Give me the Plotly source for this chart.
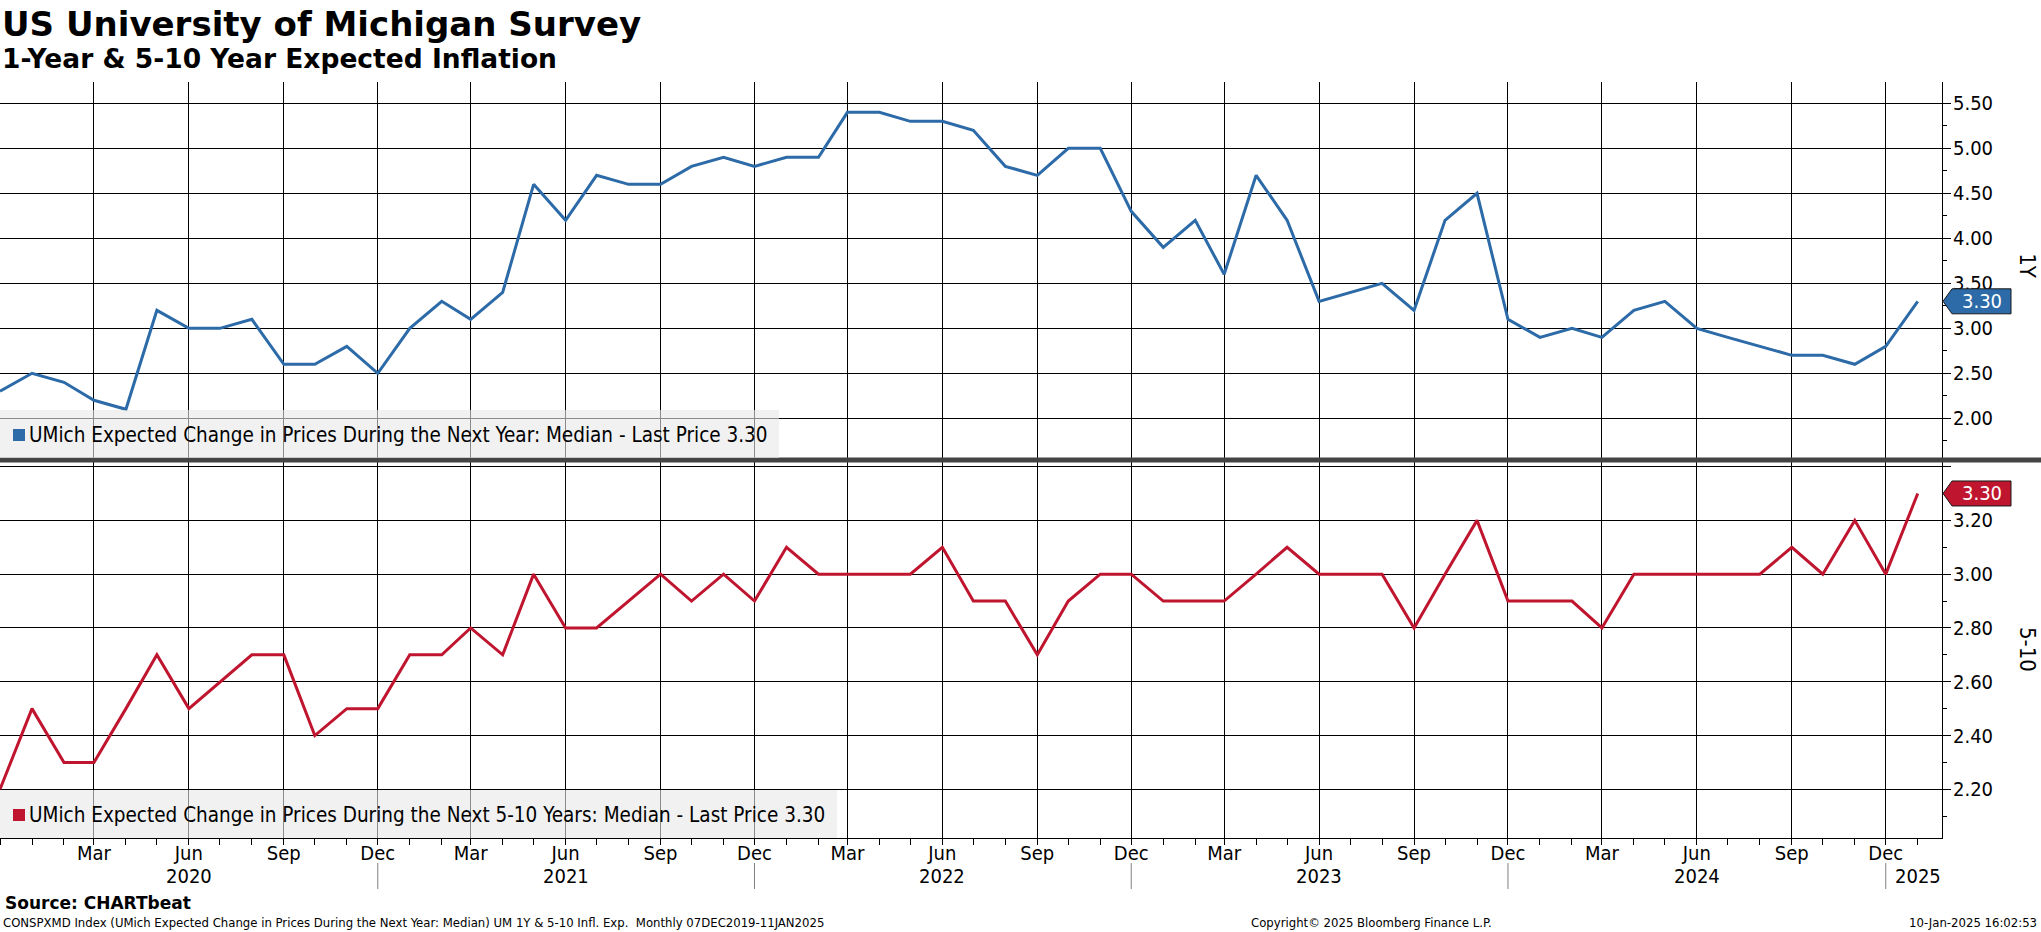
import plotly.graph_objects as go
import pandas as pd

# ---------------- data ----------------
months = pd.date_range("2019-12-01", "2025-01-01", freq="MS")

one_year = [2.3, 2.5, 2.4, 2.2, 2.1, 3.2, 3.0, 3.0, 3.1, 2.6, 2.6, 2.8, 2.5,
            3.0, 3.3, 3.1, 3.4, 4.6, 4.2, 4.7, 4.6, 4.6, 4.8, 4.9, 4.8,
            4.9, 4.9, 5.4, 5.4, 5.3, 5.3, 5.2, 4.8, 4.7, 5.0, 5.0, 4.3,
            3.9, 4.2, 3.6, 4.7, 4.2, 3.3, 3.4, 3.5, 3.2, 4.2, 4.5, 3.1,
            2.9, 3.0, 2.9, 3.2, 3.3, 3.0, 2.9, 2.8, 2.7, 2.7, 2.6, 2.8,
            3.3]

five_ten = [2.2, 2.5, 2.3, 2.3, 2.5, 2.7, 2.5, 2.6, 2.7, 2.7, 2.4, 2.5, 2.5,
            2.7, 2.7, 2.8, 2.7, 3.0, 2.8, 2.8, 2.9, 3.0, 2.9, 3.0, 2.9,
            3.1, 3.0, 3.0, 3.0, 3.0, 3.1, 2.9, 2.9, 2.7, 2.9, 3.0, 3.0,
            2.9, 2.9, 2.9, 3.0, 3.1, 3.0, 3.0, 3.0, 2.8, 3.0, 3.2, 2.9,
            2.9, 2.9, 2.8, 3.0, 3.0, 3.0, 3.0, 3.0, 3.1, 3.0, 3.2, 3.0,
            3.3]

top_ticks = [2.0, 2.5, 3.0, 3.5, 4.0, 4.5, 5.0, 5.5]
bottom_ticks = [2.2, 2.4, 2.6, 2.8, 3.0, 3.2, 3.4]
bottom_tick_text = ["2.20", "2.40", "2.60", "2.80", "3.00", "3.20", ""]

quarter_ticks = pd.date_range("2019-12-01", "2024-12-01", freq="3MS")
quarter_labels = [d.strftime("%b") for d in quarter_ticks]
year_labels = ["2020", "2021", "2022", "2023", "2024", "2025"]
year_label_pos = ["2020-06-01", "2021-06-01", "2022-06-01", "2023-06-01", "2024-06-01", "2025-01-01"]
year_separators = ["2020-12-01", "2021-12-01", "2022-12-01", "2023-12-01", "2024-12-01"]

name_1y = "UMich Expected Change in Prices During the Next Year: Median"
name_510 = "UMich Expected Change in Prices During the Next 5-10 Years: Median"

BLUE = "#2c6aa8"
RED = "#c0152f"

# ---------------- geometry ----------------
W, H = 2041, 932
ML, MR, MT, MB = 0, 99, 82, 94
PW = W - ML - MR
PH = H - MT - MB
PLOT_BOTTOM = H - MB


def xp(px):
    return (px - ML) / PW


def yp(py):
    return (PLOT_BOTTOM - py) / PH


top_dom = [yp(458), 1.0]
bot_dom = [0.0, yp(462)]
top_range = [1.559, 5.737]
bot_range = [2.019, 3.417]
x_range = ["2019-12-01", "2025-01-24 12:00"]

FONT = "DejaVu Sans Condensed, DejaVu Sans, sans-serif"
BOLD_FONT = "DejaVu Sans, sans-serif"

fig = go.Figure()
fig.add_trace(go.Scatter(x=months, y=one_year, mode="lines", line=dict(color=BLUE, width=3),
                         xaxis="x", yaxis="y", showlegend=False, name=name_1y))
fig.add_trace(go.Scatter(x=months, y=five_ten, mode="lines", line=dict(color=RED, width=3),
                         xaxis="x2", yaxis="y2", showlegend=False, name=name_510))

common_x = dict(range=x_range, type="date", tickvals=quarter_ticks, showgrid=True,
                gridcolor="#000000", gridwidth=1, zeroline=False)

fig.update_layout(
    width=W, height=H,
    margin=dict(l=ML, r=MR, t=MT, b=MB),
    paper_bgcolor="white", plot_bgcolor="white",
    font=dict(family=FONT, color="black", size=20),
    xaxis=dict(**common_x, domain=[0, 1], anchor="y", matches="x2", showticklabels=False, ticks=""),
    xaxis2=dict(**common_x, domain=[0, 1], anchor="y2", ticktext=quarter_labels,
                showline=True, linecolor="black", linewidth=1,
                ticks="outside", ticklen=6, tickcolor="black", ticklabelstandoff=-9,
                minor=dict(ticks="outside", dtick="M1", tick0="2019-12-01", ticklen=6, tickcolor="black", showgrid=False),
                tickfont=dict(size=20, family=FONT)),
    yaxis=dict(domain=top_dom, range=top_range, side="right", tickvals=top_ticks, tickformat=".2f",
               showgrid=True, gridcolor="#000000", gridwidth=1, zeroline=False,
               showline=True, linecolor="black", linewidth=1,
               ticks="outside", ticklen=8, tickcolor="black", ticklabelstandoff=-2,
               minor=dict(ticks="outside", dtick=0.25, tick0=0, ticklen=4, tickcolor="black", showgrid=False),
               tickfont=dict(size=20, family=FONT)),
    yaxis2=dict(domain=bot_dom, range=bot_range, side="right", tickvals=bottom_ticks, ticktext=bottom_tick_text,
                showgrid=True, gridcolor="#000000", gridwidth=1, zeroline=False,
                showline=True, linecolor="black", linewidth=1,
                ticks="outside", ticklen=8, tickcolor="black", ticklabelstandoff=-2,
                minor=dict(ticks="outside", dtick=0.1, tick0=0, ticklen=4, tickcolor="black", showgrid=False),
                tickfont=dict(size=20, family=FONT)),
)

shapes = []
annotations = []

# separator band between panels
shapes.append(dict(type="line", xref="paper", yref="paper", x0=0, x1=W / PW, y0=yp(460), y1=yp(460),
                   line=dict(color="#444444", width=5), layer="above"))

# legend boxes
for (y0, y1, x1, col, txt, val) in [
    (410, 458, 779, BLUE, name_1y, one_year[-1]),
    (790, 838, 837, RED, name_510, five_ten[-1]),
]:
    shapes.append(dict(type="rect", xref="paper", yref="paper", x0=xp(0), x1=xp(x1), y0=yp(y1), y1=yp(y0),
                       fillcolor="rgba(232,232,232,0.6)", line=dict(width=0), layer="above"))
    cy = (y0 + y1) / 2 + 1
    shapes.append(dict(type="rect", xref="paper", yref="paper", x0=xp(13), x1=xp(25), y0=yp(cy + 6), y1=yp(cy - 6),
                       fillcolor=col, line=dict(width=0), layer="above"))
    annotations.append(dict(text=f"{txt} - Last Price {val:.2f}", xref="paper", yref="paper",
                            x=xp(27), y=yp(cy), xanchor="left", yanchor="middle", showarrow=False,
                            font=dict(size=20.5, family=FONT, color="black")))

# last price tags
for (axis, rng, val, col) in [("y", top_range, one_year[-1], BLUE), ("y2", bot_range, five_ten[-1], RED)]:
    dom_px = 376
    half = 12.5 * (rng[1] - rng[0]) / dom_px
    xt, xb, xe = xp(1943), xp(1952), xp(2011)
    path = (f"M {xt},{val} L {xb},{val + half} L {xe},{val + half} "
            f"L {xe},{val - half} L {xb},{val - half} Z")
    shapes.append(dict(type="path", xref="paper", yref=axis, path=path, fillcolor=col,
                       line=dict(color="#1a1a1a", width=1), layer="above"))
    annotations.append(dict(text=f"{val:.2f}", xref="paper", yref=axis, x=(xb + xe) / 2, y=val,
                            xanchor="center", yanchor="middle", showarrow=False,
                            font=dict(size=20, family=FONT, color="white")))

# right axis titles
annotations.append(dict(text="1Y", xref="paper", yref="y domain", x=xp(2028), y=0.51, textangle=90,
                        showarrow=False, xanchor="center", yanchor="middle", font=dict(size=22, family=FONT)))
annotations.append(dict(text="5-10", xref="paper", yref="y2 domain", x=xp(2028), y=0.5, textangle=90,
                        showarrow=False, xanchor="center", yanchor="middle", font=dict(size=22, family=FONT)))

# year labels and separators
for lab, pos in zip(year_labels, year_label_pos):
    annotations.append(dict(text=lab, xref="x2", yref="paper", x=pos, y=yp(876), showarrow=False,
                            xanchor="center", yanchor="middle", font=dict(size=20, family=FONT)))
for d in year_separators:
    shapes.append(dict(type="line", xref="x2", yref="paper", x0=d, x1=d, y0=yp(889), y1=yp(863),
                       line=dict(color="#808080", width=1)))

# titles
annotations.append(dict(text="<b>US University of Michigan Survey</b>", xref="paper", yref="paper",
                        x=0, y=yp(24), xanchor="left", yanchor="middle", showarrow=False,
                        font=dict(size=34, family=BOLD_FONT)))
annotations.append(dict(text="<b>1-Year & 5-10 Year Expected Inflation</b>", xref="paper", yref="paper",
                        x=0, y=yp(59), xanchor="left", yanchor="middle", showarrow=False,
                        font=dict(size=26.5, family=BOLD_FONT)))

# footer
annotations.append(dict(text="<b>Source: CHARTbeat</b>", xref="paper", yref="paper",
                        x=xp(3), y=yp(903), xanchor="left", yanchor="middle", showarrow=False,
                        font=dict(size=17, family=BOLD_FONT)))
annotations.append(dict(text="CONSPXMD Index (UMich Expected Change in Prices During the Next Year: Median) UM 1Y & 5-10 Infl. Exp.  Monthly 07DEC2019-11JAN2025",
                        xref="paper", yref="paper", x=xp(1), y=yp(922), xanchor="left", yanchor="middle",
                        showarrow=False, font=dict(size=13, family=FONT)))
annotations.append(dict(text="Copyright© 2025 Bloomberg Finance L.P.", xref="paper", yref="paper",
                        x=xp(1249), y=yp(922), xanchor="left", yanchor="middle",
                        showarrow=False, font=dict(size=13, family=FONT)))
annotations.append(dict(text="10-Jan-2025 16:02:53", xref="paper", yref="paper",
                        x=xp(2039), y=yp(922), xanchor="right", yanchor="middle",
                        showarrow=False, font=dict(size=13, family=FONT)))

fig.update_layout(shapes=shapes, annotations=annotations)
fig.write_html("out.html", config={"displayModeBar": False},
               post_script="document.body.style.margin='0px';document.body.style.overflow='hidden';")
